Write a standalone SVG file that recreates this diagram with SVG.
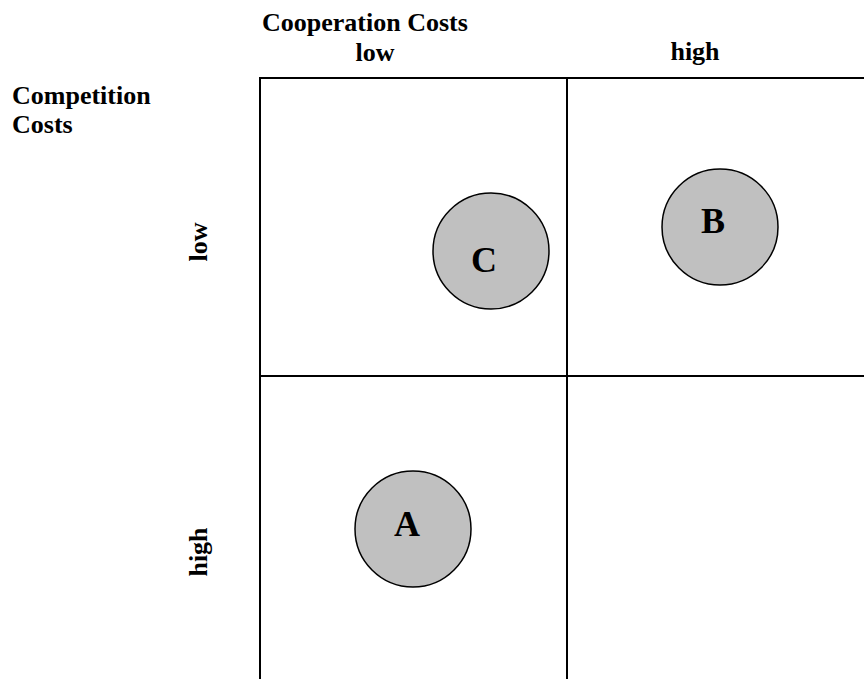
<svg xmlns="http://www.w3.org/2000/svg" width="864" height="679" viewBox="0 0 864 679">
<style>
.lbl{font-family:"Liberation Serif","Times New Roman",serif;font-weight:bold;font-size:26px;fill:#000}
.big{font-family:"Liberation Serif","Times New Roman",serif;font-weight:bold;font-size:36px;fill:#000}
.grid{stroke:#000;stroke-width:2;fill:none}
.node circle{fill:#c0c0c0;stroke:#000;stroke-width:1.5}
</style>
<rect width="864" height="679" fill="#fff"/>
<g id="grid">
<path class="grid" d="M260 679 V78 H864 M567 78 V679 M260 376 H864"/>
</g>
<g id="labels">
<text class="lbl" x="262" y="31">Cooperation Costs</text>
<text class="lbl" x="375" y="61" text-anchor="middle">low</text>
<text class="lbl" x="695" y="60" text-anchor="middle">high</text>
<text class="lbl" x="12" y="104">Competition</text>
<text class="lbl" x="12" y="133">Costs</text>
<text class="lbl" transform="translate(207,242) rotate(-90)" text-anchor="middle">low</text>
<text class="lbl" transform="translate(207,552) rotate(-90)" text-anchor="middle">high</text>
</g>
<g id="connectors"></g>
<g id="node-C" class="node">
<circle cx="491" cy="251" r="58"/>
<text class="big" x="484" y="272" text-anchor="middle">C</text>
</g>
<g id="node-B" class="node">
<circle cx="720" cy="227" r="58"/>
<text class="big" x="713" y="233" text-anchor="middle">B</text>
</g>
<g id="node-A" class="node">
<circle cx="413" cy="529" r="58"/>
<text class="big" x="407" y="536" text-anchor="middle">A</text>
</g>
</svg>
